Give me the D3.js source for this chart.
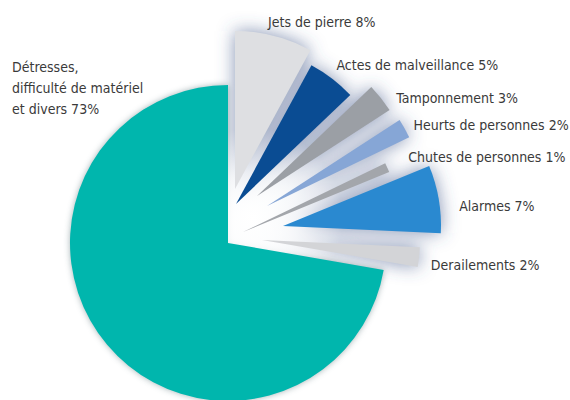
<!DOCTYPE html>
<html>
<head>
<meta charset="utf-8">
<script src="https://cdn.jsdelivr.net/npm/d3@7"></script>
<style>
  body { margin: 0; background: #fff; }
  svg { display: block; }
  text { font-family: "DejaVu Sans Condensed", "Liberation Sans Narrow", sans-serif; fill: #3a3a3a; }
</style>
</head>
<body>
<svg id="chart"></svg>
<script>
// data, clockwise from 12 o'clock
const categories = [
  "Jets de pierre",
  "Actes de malveillance",
  "Tamponnement ",
  "Heurts de personnes",
  "Chutes de personnes",
  "Alarmes",
  "Derailements",
  "Détresses, difficulté de matériel et divers"
];
const percents = [8, 5, 3, 2, 1, 7, 2, 73];

const width = 570;
const height = 400;
const cx = 228, cy = 243;
const radius = 158;

// styles per slice
const colors = ["#dedfe2", "#0a4c93", "#9b9fa5", "#86a6d6", "#a3a6ab", "#2a89d0", "#d3d4d7", "#00b6ad"];
// how far each wedge is pulled out of the pie (dx, dy)
const explode = [[7, -54], [8, -39], [29, -47], [39, -37], [15, -11], [55, -17], [34, -3], [0, 0]];
const labelNudge = [[33, -4], [25, 5], [25, 16], [14, 10], [23, -1], [30, 45], [11, 23], [0, 0]];

const svg = d3.select("#chart").attr("width", width).attr("height", height);
const defs = svg.append("defs");

const glow = defs.append("filter").attr("id", "glow")
  .attr("x", "-50%").attr("y", "-50%").attr("width", "200%").attr("height", "200%");
glow.append("feGaussianBlur").attr("stdDeviation", 9);

const soft = defs.append("filter").attr("id", "soft")
  .attr("x", "-20%").attr("y", "-20%").attr("width", "140%").attr("height", "140%");
soft.append("feGaussianBlur").attr("stdDeviation", 3);

const centerGlow = defs.append("radialGradient").attr("id", "centerGlow");
centerGlow.append("stop").attr("offset", "0%").attr("stop-color", "#fff").attr("stop-opacity", 1);
centerGlow.append("stop").attr("offset", "50%").attr("stop-color", "#fbfcfd").attr("stop-opacity", 0.75);
centerGlow.append("stop").attr("offset", "100%").attr("stop-color", "#fff").attr("stop-opacity", 0);

const pie = d3.pie().sort(null).value((d) => d);
const arcs = pie(percents);
const arc = d3.arc().innerRadius(0).outerRadius(radius);

const g = svg.append("g").attr("transform", `translate(${cx},${cy})`);
const small = arcs.filter((d, i) => i < 7);

// bluish halo behind the fan
g.append("g")
  .attr("filter", "url(#glow)")
  .selectAll("path")
  .data(small)
  .join("path")
  .attr("transform", (d, i) => `translate(${explode[i]})`)
  .attr("d", arc)
  .attr("fill", "#44578a")
  .attr("opacity", 0.65);

g.append("path")
  .attr("filter", "url(#soft)")
  .attr("d", arc(arcs[7]))
  .attr("fill", "#4d6a70")
  .attr("opacity", 0.5);

// light area near the hub of the fan
g.append("circle")
  .attr("cx", 25).attr("cy", -25).attr("r", 90)
  .attr("fill", "url(#centerGlow)");

g.selectAll("path.slice")
  .data(arcs)
  .join("path")
  .attr("class", "slice")
  .attr("transform", (d, i) => `translate(${explode[i]})`)
  .attr("d", arc)
  .attr("fill", (d, i) => colors[i]);

// labels for the small slices, from the outer start corner
g.selectAll("text.lbl")
  .data(small)
  .join("text")
  .attr("class", "lbl")
  .attr("font-size", 14)
  .attr("x", (d, i) => explode[i][0] + Math.sin(d.startAngle) * radius + labelNudge[i][0])
  .attr("y", (d, i) => explode[i][1] - Math.cos(d.startAngle) * radius + labelNudge[i][1])
  .text((d, i) => `${categories[i]} ${d.data}%`);

// big slice label, top left
const big = svg.append("text")
  .attr("font-size", 14)
  .attr("y", cy - radius - 13);
const bigLines = ["Détresses,", "difficulté de matériel", `et divers ${percents[7]}%`];
big.selectAll("tspan")
  .data(bigLines)
  .join("tspan")
  .attr("x", cx - radius - 58)
  .attr("dy", (d, i) => (i === 0 ? 0 : 21))
  .text((d) => d);
</script>
</body>
</html>
